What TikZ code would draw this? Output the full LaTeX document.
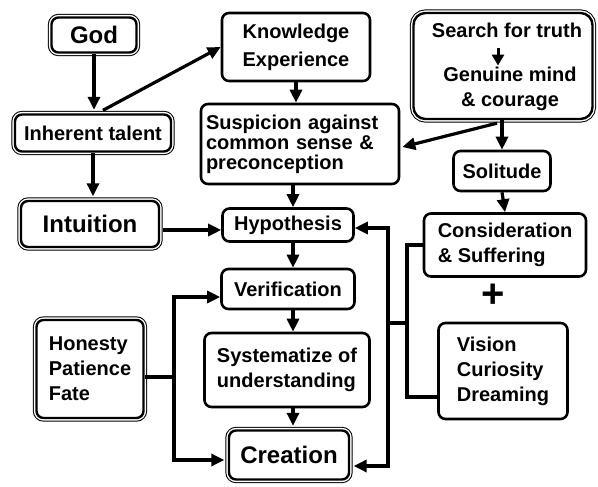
\documentclass[tikz,border=0pt]{standalone}
\usepackage{fontspec}
\setmainfont{Liberation Sans}
\usetikzlibrary{arrows.meta,calc}
\begin{document}
\begin{tikzpicture}[x=1pt,y=-1pt,
  txt/.style={font=\fontsize{20}{25}\selectfont\bfseries},
  big/.style={font=\fontsize{24}{28}\selectfont\bfseries},
  box/.style={draw, line width=2.6pt, rounded corners=7pt, inner sep=0pt, align=center, txt},
  dbox/.style={box, fill=white, line width=2.4pt, preaction={draw, line width=7.2pt}, preaction={draw, white, line width=5.2pt}},
  arr/.style={line width=3.2pt, -{Triangle[length=13pt,width=12pt]}},
  ln/.style={line width=3.2pt}]
\useasboundingbox (0,0) rectangle (598,487);

% boxes
\node[dbox, big, minimum width=85pt, minimum height=35pt] (god) at (94,35) {God};
\node[box, minimum width=148pt, minimum height=68pt] (know) at (296,47) {Knowledge\\[3pt]Experience};
\node[dbox, rounded corners=12pt, minimum width=179pt, minimum height=106pt] (search) at (503,66) {};
\node[txt, inner sep=0pt] (s1) at (507,30) {Search for truth};
\node[txt, inner sep=0pt, align=center] (s2) at (510,89) {Genuine mind\\\& courage};
\node[dbox, minimum width=156pt, minimum height=37pt] (talent) at (93,133) {Inherent talent};
\node[box, minimum width=198pt, minimum height=80pt, text width=188pt, align=left, font=\fontsize{20}{20}\selectfont\bfseries] (susp) at (300,144) {Suspicion against\\common sense \&\\preconception};
\node[box, minimum width=97pt, minimum height=40pt] (solitude) at (502,171) {Solitude};
\node[dbox, big, minimum width=138pt, minimum height=46pt] (intuition) at (90,224) {Intuition};
\node[box, minimum width=131pt, minimum height=33pt] (hyp) at (288,225) {Hypothesis};
\node[box, minimum width=162pt, minimum height=63pt, align=left] (consid) at (505,245) {Consideration\\\& Suffering};
\node[font=\fontsize{40}{40}\selectfont\bfseries] (plus) at (493,296) {+};
\node[box, minimum width=129pt, minimum height=96pt, align=left] (vision) at (503,371) {Vision\\Curiosity\\Dreaming};
\node[box, minimum width=133pt, minimum height=40pt] (verif) at (288,289) {Verification};
\node[box, minimum width=165pt, minimum height=74pt, align=left] (syst) at (287,370) {Systematize of\\understanding};
\node[dbox, big, minimum width=120pt, minimum height=49pt] (creation) at (289,455) {Creation};
\node[dbox, minimum width=107pt, minimum height=98pt, align=left] (honesty) at (90,369) {Honesty\\Patience\\Fate};

% connectors
\coordinate (col) at (293,0);
\draw[arr, shorten >=3.5pt] (god.south) -- (god.south |- talent.north);
\draw[arr] ($(talent.north)+(10,-3)$) -- (know.west);
\draw[arr, shorten >=3.5pt] (talent.south) -- (talent.south |- intuition.north);
\draw[arr] (know.south) -- (know.south |- susp.north);
\draw[line width=3pt, -{Triangle[length=11pt,width=12pt]}] ($(s1.south)+(-9,10)$) -- ($(s1.south)+(-9,28)$);
\draw[arr] ($(search.south)+(-6,3)$) -- ($(susp.east)+(2,3)$);
\draw[arr] (solitude.north |- search.south) -- (solitude.north);
\draw[arr] (solitude.south) -- (consid.north);
\draw[arr] (col |- susp.south) -- (col |- hyp.north);
\draw[arr] ($(intuition.east)+(3,6)$) -- ($(hyp.west)+(0,5)$);
\draw[arr] (col |- hyp.south) -- (col |- verif.north);
\draw[arr] (col |- verif.south) -- (col |- syst.north);
\draw[arr, shorten >=3.5pt] (col |- syst.south) -- (col |- creation.north);

% left bracket
\coordinate (jL) at (174,377);
\draw[ln] (honesty.east |- jL) -- (jL);
\draw[arr] (jL) |- ($(verif.west)+(0,8)$);
\draw[arr, shorten >=3.5pt] (jL) |- ($(creation.west)+(0,5)$);

% right bracket
\coordinate (jR2) at (407,323);
\coordinate (jR) at (388,323);
\draw[ln] (consid.west) -| (jR2) |- ($(vision.west)+(0,26)$);
\draw[ln] (jR2) -- (jR);
\draw[arr] (jR) |- ($(hyp.east)+(0,3)$);
\draw[arr, shorten >=3.5pt] (jR) |- ($(creation.east)+(0,11)$);
\end{tikzpicture}
\end{document}
